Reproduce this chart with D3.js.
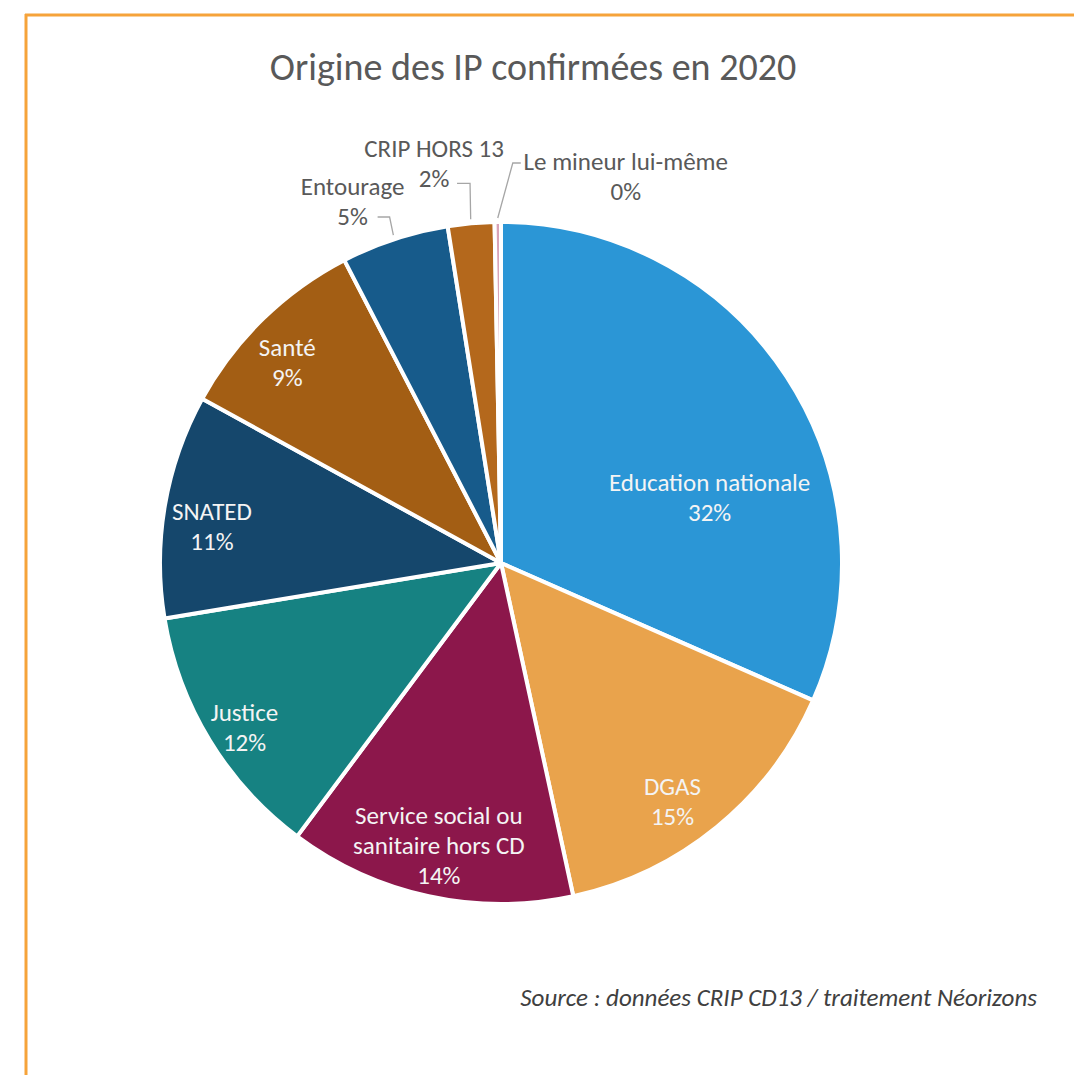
<!DOCTYPE html>
<html lang="fr">
<head>
<meta charset="utf-8">
<script src="https://cdn.jsdelivr.net/npm/d3@7"></script>
<style>
  html, body { margin: 0; padding: 0; background: #ffffff; }
  svg { display: block; }
</style>
</head>
<body>
<svg id="chart" width="1074" height="1075"></svg>
<script>
// Origine des informations préoccupantes confirmées en 2020 (en %)
const categories = [
  "Education nationale",
  "DGAS",
  "Service social ou sanitaire hors CD",
  "Justice",
  "SNATED",
  "Santé",
  "Entourage",
  "CRIP HORS 13",
  "Le mineur lui-même"
];
const shares = [31.6, 15.0, 13.6, 12.2, 10.6, 9.4, 5.1, 2.2, 0.3];
const sliceColors = ["#2b96d6", "#e9a34c", "#8c174b", "#168282", "#15476c",
                     "#a35e14", "#175b8b", "#b4681c", "#d9a3b8"];
// How each label's text is broken into lines
const labelLines = [
  ["Education nationale"],
  ["DGAS"],
  ["Service social ou", "sanitaire hors CD"],
  ["Justice"],
  ["SNATED"],
  ["Santé"],
  ["Entourage"],
  ["CRIP HORS 13"],
  ["Le mineur lui-même"]
];
const titleText = "Origine des IP confirmées en 2020";
const sourceText = "Source : données CRIP CD13 / traitement Néorizons";

// ---- layout ----
const W = 1074, H = 1075;
const cx = 501, cy = 563, R = 341;
const fontFamily = "Carlito, 'Open Sans', 'Noto Sans', sans-serif";

// inside labels: nudge from the label-arc centroid
const insideNudge = [[-37, 94], [-14, 11], [0, -4], [-6, 12], [0, 13], [-9, 9]];
// outside labels: text centre, leader elbow and leader end, relative to slice edge
const outsideLayout = {
  6: { text: [-42, -38], elbow: [-5, -22], end: [-17, -22] },
  7: { text: [-37, -60], elbow: [-1, -40], end: [-14, -40] },
  8: { text: [128, -46], elbow: [15, -59], end: [23, -59] }
};

const svg = d3.select("#chart");

// frame lines (top and left)
svg.append("line").attr("x1", 25).attr("x2", W).attr("y1", 15).attr("y2", 15)
  .attr("stroke", "#f6a33a").attr("stroke-width", 3);
svg.append("line").attr("x1", 26).attr("x2", 26).attr("y1", 14).attr("y2", H)
  .attr("stroke", "#f6a33a").attr("stroke-width", 3);

// title
svg.append("text")
  .attr("x", 533).attr("y", 80)
  .attr("text-anchor", "middle")
  .attr("font-family", fontFamily)
  .attr("font-size", 38)
  .attr("fill", "#595959")
  .text(titleText);

const data = categories.map((c, i) => ({ name: c, value: shares[i], i }));
const total = d3.sum(shares);
const pct = v => Math.round(v / total * 100) + "%";

const pie = d3.pie().value(d => d.value).sort(null).startAngle(0).endAngle(2 * Math.PI);
const arcs = pie(data);

const arc = d3.arc().innerRadius(0).outerRadius(R);
const labelArc = d3.arc().innerRadius(R * 0.86).outerRadius(R * 0.86);
const edgeArc = d3.arc().innerRadius(R).outerRadius(R);
const edgeOut = d3.arc().innerRadius(R + 4).outerRadius(R + 4);

const g = svg.append("g").attr("transform", `translate(${cx},${cy})`);

g.selectAll("path.slice")
  .data(arcs)
  .join("path")
  .attr("class", "slice")
  .attr("d", arc)
  .attr("fill", d => sliceColors[d.data.i])
  .attr("stroke", "#ffffff")
  .attr("stroke-width", 4)
  .attr("stroke-linejoin", "round");

const lineH = 30;

// labels inside the slices
arcs.filter(d => d.data.i < 6).forEach(d => {
  const i = d.data.i;
  const [x0, y0] = labelArc.centroid(d);
  const x = x0 + insideNudge[i][0], y = y0 + insideNudge[i][1];
  const lines = labelLines[i].concat([pct(d.data.value)]);
  const top = y - (lines.length - 1) * lineH / 2;
  const t = g.append("text")
    .attr("text-anchor", "middle")
    .attr("font-family", fontFamily)
    .attr("font-size", 25)
    .attr("fill", "#f4f4f4");
  lines.forEach((s, k) => {
    t.append("tspan").attr("x", x).attr("y", top + k * lineH).attr("dy", "0.35em").text(s);
  });
});

// labels outside the pie, with leader lines
arcs.filter(d => d.data.i >= 6).forEach(d => {
  const i = d.data.i;
  const L = outsideLayout[i];
  const [ex, ey] = edgeArc.centroid(d);
  const [sx, sy] = edgeOut.centroid(d);
  g.append("polyline")
    .attr("points", [[sx, sy], [ex + L.elbow[0], ey + L.elbow[1]], [ex + L.end[0], ey + L.end[1]]].join(" "))
    .attr("fill", "none")
    .attr("stroke", "#a6a6a6")
    .attr("stroke-width", 1.3);
  const x = ex + L.text[0], y = ey + L.text[1];
  const lines = labelLines[i].concat([pct(d.data.value)]);
  const top = y - (lines.length - 1) * lineH / 2;
  const t = g.append("text")
    .attr("text-anchor", "middle")
    .attr("font-family", fontFamily)
    .attr("font-size", 25)
    .attr("fill", "#595959");
  lines.forEach((s, k) => {
    t.append("tspan").attr("x", x).attr("y", top + k * lineH).attr("dy", "0.35em").text(s);
  });
});

// source note
svg.append("text")
  .attr("x", 1037).attr("y", 1006)
  .attr("text-anchor", "end")
  .attr("font-family", fontFamily)
  .attr("font-style", "italic")
  .attr("font-size", 25)
  .attr("fill", "#404040")
  .text(sourceText);
</script>
</body>
</html>
